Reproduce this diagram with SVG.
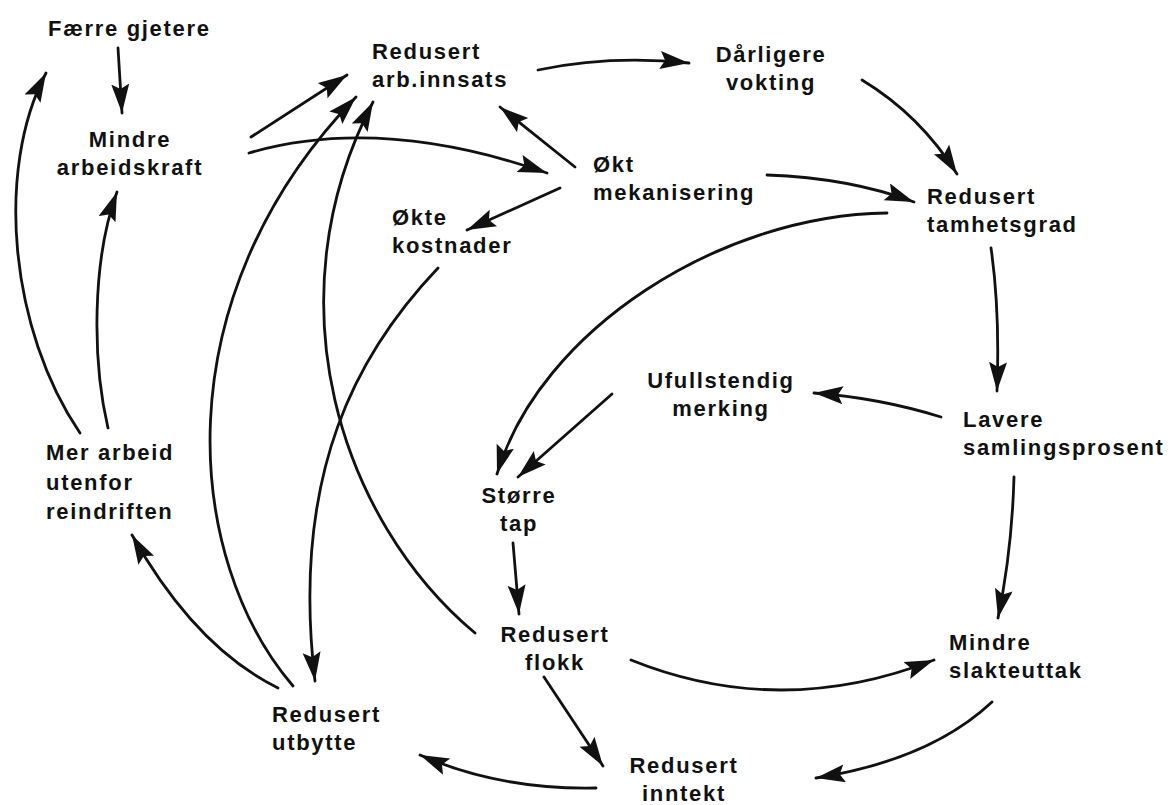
<svg xmlns="http://www.w3.org/2000/svg" width="1170" height="805" viewBox="0 0 1170 805">
<style>
.t{font-family:"Liberation Sans",Arial,Helvetica,sans-serif;font-weight:bold;font-size:22px;letter-spacing:1.7px;fill:#111}
.m{text-anchor:middle}
.c{fill:none;stroke:#111;stroke-width:2.8;stroke-linecap:round;marker-end:url(#ah)}
</style>
<defs>
<marker id="ah" markerUnits="userSpaceOnUse" markerWidth="32" markerHeight="20" refX="29" refY="9" orient="auto">
<path d="M0,0 L29,9 L0,18 L5,9 z" fill="#111"/>
</marker>
</defs>
<rect width="1170" height="805" fill="#fff"/>
<g id="connectors">
<path class="c" d="M118,48 L122,113"/>
<path class="c" d="M80,433 C10,330 -5,170 46,73"/>
<path class="c" d="M108,428 C92,360 92,260 117,192"/>
<path class="c" d="M278,688 Q195,647 132,535"/>
<path class="c" d="M293,686 C185,560 160,300 356,97"/>
<path class="c" d="M475,633 C340,520 270,300 373,102"/>
<path class="c" d="M438,268 C360,350 290,470 315,681"/>
<path class="c" d="M251,137 L347,75"/>
<path class="c" d="M249,153 Q380,115 547,173"/>
<path class="c" d="M575,167 L500,107"/>
<path class="c" d="M560,188 L467,230"/>
<path class="c" d="M538,70 Q610,55 689,63"/>
<path class="c" d="M862,80 Q920,115 957,174"/>
<path class="c" d="M767,175 Q850,178 914,202"/>
<path class="c" d="M887,213 C720,215 540,330 497,474"/>
<path class="c" d="M612,394 L518,477"/>
<path class="c" d="M991,248 Q1000,310 997,391"/>
<path class="c" d="M941,417 Q880,398 814,393"/>
<path class="c" d="M1014,477 Q1012,550 998,618"/>
<path class="c" d="M513,543 L519,614"/>
<path class="c" d="M631,660 Q780,720 934,660"/>
<path class="c" d="M544,677 L603,766"/>
<path class="c" d="M992,702 Q930,760 816,778"/>
<path class="c" d="M596,788 Q500,790 420,755"/>
</g>
<g id="faerre-gjetere"><text class="t" x="48" y="36">Færre gjetere</text></g>
<g id="mindre-arbeidskraft"><text class="t m" x="130" y="147">Mindre</text><text class="t m" x="130" y="175">arbeidskraft</text></g>
<g id="redusert-arb-innsats"><text class="t" x="372" y="59">Redusert</text><text class="t" x="372" y="87">arb.innsats</text></g>
<g id="darligere-vokting"><text class="t m" x="771" y="62">Dårligere</text><text class="t m" x="771" y="90">vokting</text></g>
<g id="okt-mekanisering"><text class="t" x="593" y="172">Økt</text><text class="t" x="593" y="200">mekanisering</text></g>
<g id="redusert-tamhetsgrad"><text class="t" x="927" y="204">Redusert</text><text class="t" x="927" y="232">tamhetsgrad</text></g>
<g id="okte-kostnader"><text class="t" x="392" y="225">Økte</text><text class="t" x="392" y="253">kostnader</text></g>
<g id="ufullstendig-merking"><text class="t m" x="721" y="388">Ufullstendig</text><text class="t m" x="721" y="416">merking</text></g>
<g id="lavere-samlingsprosent"><text class="t" x="963" y="427">Lavere</text><text class="t" x="963" y="455">samlingsprosent</text></g>
<g id="mer-arbeid"><text class="t" x="46" y="460">Mer arbeid</text><text class="t" x="46" y="490">utenfor</text><text class="t" x="46" y="519">reindriften</text></g>
<g id="storre-tap"><text class="t m" x="519" y="503">Større</text><text class="t m" x="519" y="531">tap</text></g>
<g id="redusert-flokk"><text class="t m" x="555" y="642">Redusert</text><text class="t m" x="555" y="670">flokk</text></g>
<g id="mindre-slakteuttak"><text class="t" x="949" y="650">Mindre</text><text class="t" x="949" y="678">slakteuttak</text></g>
<g id="redusert-utbytte"><text class="t" x="272" y="722">Redusert</text><text class="t" x="272" y="750">utbytte</text></g>
<g id="redusert-inntekt"><text class="t m" x="684" y="773">Redusert</text><text class="t m" x="684" y="801">inntekt</text></g>
</svg>
